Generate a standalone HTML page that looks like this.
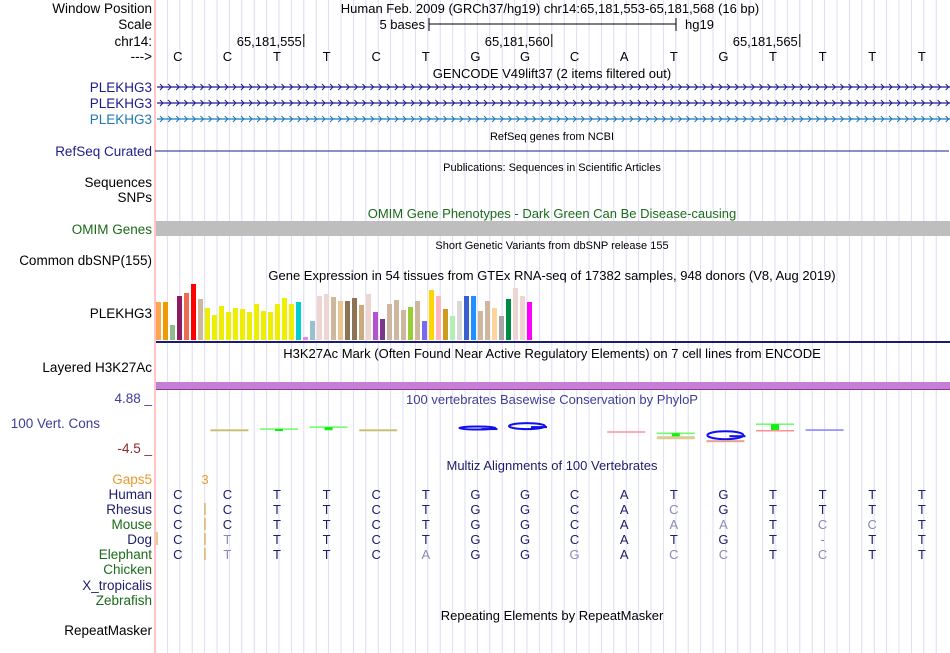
<!DOCTYPE html>
<html><head><meta charset="utf-8">
<style>
html,body{margin:0;padding:0;background:#fff;}
svg{display:block;font-family:"Liberation Sans",Arial,sans-serif;}
</style></head>
<body>
<svg id="chart" width="950" height="653" viewBox="0 0 950 653" xmlns="http://www.w3.org/2000/svg">
<g id="grid"></g>
<line x1="155" y1="0" x2="155" y2="653" stroke="#ff9c9c" stroke-width="1.2"/>
<g font-size="13.5" fill="#000" text-anchor="end">
<text x="152" y="13">Window Position</text>
<text x="152" y="29">Scale</text>
<text x="152" y="46">chr14:</text>
<text x="152" y="61">---&gt;</text>
<text x="152" y="92" fill="#1c1c8c">PLEKHG3</text>
<text x="152" y="108" fill="#1c1c8c">PLEKHG3</text>
<text x="152" y="124" fill="#1f78b4">PLEKHG3</text>
<text x="152" y="156" fill="#1c1c8c">RefSeq Curated</text>
<text x="152" y="187">Sequences</text>
<text x="152" y="202">SNPs</text>
<text x="152" y="234" fill="#1a6b1a">OMIM Genes</text>
<text x="152" y="265">Common dbSNP(155)</text>
<text x="152" y="318">PLEKHG3</text>
<text x="152" y="372">Layered H3K27Ac</text>
<text x="152" y="403" fill="#3d3d99">4.88 _</text>
<text x="100" y="428" fill="#3d3d99">100 Vert. Cons</text>
<text x="152" y="453" fill="#8c2a2a">-4.5 _</text>
<text x="152" y="484" fill="#e69a2e">Gaps5</text>
<text x="152" y="499" fill="#1c1c6c">Human</text>
<text x="152" y="514" fill="#1c1c6c">Rhesus</text>
<text x="152" y="529" fill="#1a6b1a">Mouse</text>
<text x="152" y="544" fill="#1c1c6c">Dog</text>
<text x="152" y="559" fill="#1a6b1a">Elephant</text>
<text x="152" y="574" fill="#1a6b1a">Chicken</text>
<text x="152" y="590" fill="#1c1c6c">X_tropicalis</text>
<text x="152" y="605" fill="#1a6b1a">Zebrafish</text>
<text x="152" y="635">RepeatMasker</text>
</g>
<g font-size="13" text-anchor="middle">
<text x="550" y="13">Human Feb. 2009 (GRCh37/hg19)   chr14:65,181,553-65,181,568 (16 bp)</text>
<text x="552" y="78">GENCODE V49lift37 (2 items filtered out)</text>
<text x="552" y="140" font-size="11">RefSeq genes from NCBI</text>
<text x="552" y="171" font-size="11">Publications: Sequences in Scientific Articles</text>
<text x="552" y="218" fill="#1a6b1a">OMIM Gene Phenotypes - Dark Green Can Be Disease-causing</text>
<text x="552" y="249" font-size="11">Short Genetic Variants from dbSNP release 155</text>
<text x="552" y="280">Gene Expression in 54 tissues from GTEx RNA-seq of 17382 samples, 948 donors (V8, Aug 2019)</text>
<text x="552" y="358">H3K27Ac Mark (Often Found Near Active Regulatory Elements) on 7 cell lines from ENCODE</text>
<text x="552" y="404" fill="#3d3d99">100 vertebrates Basewise Conservation by PhyloP</text>
<text x="552" y="470" fill="#1c1c6c">Multiz Alignments of 100 Vertebrates</text>
<text x="552" y="620">Repeating Elements by RepeatMasker</text>
</g>
<g>
<text x="425" y="29" font-size="13" text-anchor="end">5 bases</text>
<line x1="429" y1="24" x2="676" y2="24" stroke="#000"/>
<line x1="429" y1="18" x2="429" y2="31" stroke="#000"/>
<line x1="676" y1="18" x2="676" y2="31" stroke="#000"/>
<text x="685" y="29" font-size="13">hg19</text>
</g>
<g id="ruler" font-size="13"></g>
<g id="bases" font-size="13" text-anchor="middle"></g>
<g id="genes"></g>
<line x1="155" y1="151" x2="949" y2="151" stroke="#1c1c8c"/>
<rect x="156" y="221" width="794" height="15" fill="#bebebe"/>
<g id="gtex"></g>
<rect x="156" y="341" width="794" height="2" fill="#1c1c6c"/>
<rect x="156" y="382" width="794" height="7" fill="#c77fd6"/>
<line x1="156" y1="389.5" x2="950" y2="389.5" stroke="#8a3d99"/>
<g id="cons"></g>
<g id="aln" font-size="13" text-anchor="middle"></g>
</svg>
<script>
const ns="http://www.w3.org/2000/svg";
const X0=155, BW=49.6;
const refBases=["C","C","T","T","C","T","G","G","C","A","T","G","T","T","T","T"];
const rulerPositions=["65,181,555","65,181,560","65,181,565"];
const rulerBaseIndex=[3,8,13];
const gtexValues=[114,114,45,132,141,168,123,96,75,102,84,96,93,84,108,87,84,108,126,108,114,9,57,132,138,129,117,117,126,105,138,84,63,108,120,90,99,117,57,150,132,93,72,117,132,132,87,117,96,72,123,156,132,114];
const gtexColors=["#FFA54F","#EE9A00","#8FBC8F","#8B1C62","#EE6A50","#FF0000","#CDB79E","#EEEE00","#EEEE00","#EEEE00","#EEEE00","#EEEE00","#EEEE00","#EEEE00","#EEEE00","#EEEE00","#EEEE00","#EEEE00","#EEEE00","#EEEE00","#00CED1","#EE82EE","#9AC0CD","#EED5D2","#EED5D2","#CDB79E","#EEC591","#8B7355","#8B7355","#CDAA7D","#EED5D2","#B452CD","#7A378B","#CDB79E","#CDB79E","#CDB79E","#9ACD32","#CDB79E","#7B68EE","#FFD700","#FFB6C1","#CD9B1D","#B4EEB4","#D9D9D9","#3A5FCD","#1E90FF","#CDB79E","#CDB79E","#FFD39B","#A6A6A6","#008B45","#EED5D2","#EED5D2","#FF00FF"];
// phylop per base (null = no data); kind: n=neutral, p=positive, r=negative, g=G logo, b=blue
const consValues=[null,0,0.15,0.45,0,null,0.3,0.6,null,-0.3,-0.5,-0.8,0.9,0,null,null];
const consKinds=["","n","p","p","n","","g","g","","r","p","g","p","b","",""];
const alnRows=[
"CCTTCTGGCATGTTTT",
"CCTTCTGGCACGTTTT",
"CCTTCTGGCAAATCCT",
"CTTTCTGGCATGT-TT",
"CTTTCAGGGACCTCTT"];
function mk(tag,attrs,parent,txt){const e=document.createElementNS(ns,tag);for(const k in attrs)e.setAttribute(k,attrs[k]);if(txt!==undefined)e.textContent=txt;parent.appendChild(e);return e;}
const bx=i=>X0+BW*(i+0.5);
const grid=document.getElementById('grid');
for(let k=1;k<64;k++){const x=X0+k*BW/4;
const l=mk('line',{x1:x,y1:0,x2:x,y2:653,stroke:'#dcdcf6','stroke-width':1},grid);

}
const ruler=document.getElementById('ruler');
rulerPositions.forEach((p,i)=>{const x=X0+BW*rulerBaseIndex[i];
const t=mk('text',{x:x-2,y:46,'text-anchor':'end'},ruler,p);


const l=mk('line',{x1:x,y1:34,x2:x,y2:47,stroke:'#000'},ruler);

});
const bases=document.getElementById('bases');
refBases.forEach((b,i)=>{const t=mk('text',{x:bx(i)-2,y:61},bases,b);

});
const genes=document.getElementById('genes');
[[87,'#1c1c8c'],[103,'#1c1c8c'],[119,'#1f78b4']].forEach(([y,c])=>{
const g=mk('g',{},genes);


mk('line',{x1:157,y1:y,x2:950,y2:y,stroke:c,'stroke-width':1.2},g);
let d='';for(let x=160;x<950;x+=8.1){d+=`M${x.toFixed(1)},${y-3}L${(x+3).toFixed(1)},${y}L${x.toFixed(1)},${y+3}`;}
mk('path',{d:d,stroke:c,fill:'none','stroke-width':1},g);});
const gtex=document.getElementById('gtex');
const gBase=340, gScale=60/180;
gtexValues.forEach((v,i)=>{const h=v*gScale;
const r=mk('rect',{x:156+i*7,y:gBase-h,width:5,height:h,fill:gtexColors[i]},gtex);

});
// conservation
const cons=document.getElementById('cons');
const c0=430, cS=6.5;
consValues.forEach((v,i)=>{if(v===null)return;
const k=consKinds[i];
const y=c0-v*cS, w=38, x=bx(i)-w/2;
if(k==='g'){
const h=Math.max(3,Math.abs(v)*10);
const e=mk('ellipse',{cx:bx(i),cy:y,rx:w/2-1,ry:h/2,fill:'none',stroke:'#1010ee','stroke-width':2},cons);


const bar=mk('rect',{x:bx(i)+4,y:y,width:w/2-3,height:2,fill:'#1010ee'},cons);


if(v<0){const u=mk('rect',{x:x,y:y+h/2+1,width:w,height:2,fill:'#e8a090'},cons);

}
return;}
const col=k==='p'?'#66ff66':(k==='r'?'#ff9090':(k==='b'?'#8080ff':'#c8c070'));
const l=mk('rect',{x:x,y:y-0.7,width:w,height:k==='n'?2:1.5,fill:col},cons);


if(k==='p'){const s=mk('rect',{x:bx(i)-4,y:y,width:8,height:Math.max(2,Math.abs(v)*7),fill:'#11ee11'},cons);


if(v>=0.8){const r=mk('rect',{x:x,y:c0,width:w,height:1.5,fill:'#ff9090'},cons);

}
if(v<0){const r=mk('rect',{x:x,y:y+3,width:w,height:3,fill:'#d8cc90'},cons);

}}});
const aln=document.getElementById('aln');
mk('text',{x:205,y:484,fill:'#e69a2e'},aln,'3');
alnRows.forEach((row,r)=>{const y=499+r*15;
if(r>0){const g=mk('line',{x1:205,y1:y-11,x2:205,y2:y+1,stroke:'#d89020'},aln);

}
row.split('').forEach((b,i)=>{const match=b===alnRows[0][i];
const t=mk('text',{x:bx(i)-2,y:y,fill:match?'#1c1c6c':'#8a8ab8'},aln,b);

});});
const dg=mk('line',{x1:157,y1:532,x2:157,y2:545,stroke:'#d89020'},aln);


</script>
</body></html>
